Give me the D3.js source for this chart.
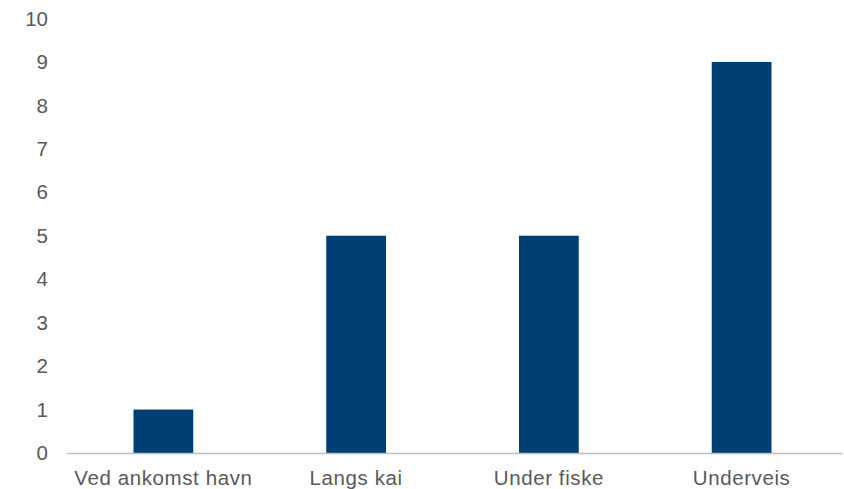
<!DOCTYPE html>
<html><head><meta charset="utf-8">
<script src="https://cdn.jsdelivr.net/npm/d3@7"></script>
<style>body{margin:0;background:#fff}</style>
</head><body>
<script>
const categories = ["Ved ankomst havn", "Langs kai", "Under fiske", "Underveis"];
const values = [1, 5, 5, 9];
const yTicks = [0,1,2,3,4,5,6,7,8,9,10];

const W = 844, H = 489;
const svg = d3.select("body").append("svg").attr("width", W).attr("height", H);
const x = d3.scaleBand().domain(categories).range([67, 838]).paddingInner(0.69).paddingOuter(0.345);
const y = d3.scaleLinear().domain([0, 10]).range([453, 18.5]);

svg.append("g").selectAll("rect").data(values).join("rect")
  .attr("x", (d,i) => x(categories[i]))
  .attr("width", x.bandwidth())
  .attr("y", d => y(d))
  .attr("height", d => y(0) - y(d))
  .attr("fill", "#003f73");

svg.append("line").attr("x1", 67).attr("x2", 843).attr("y1", y(0)+0.5).attr("y2", y(0)+0.5)
  .attr("stroke", "#bfbfbf").attr("stroke-width", 1.5);

const font = "'Liberation Sans', Arial, sans-serif";
svg.append("g").selectAll("text").data(yTicks).join("text")
  .attr("x", 48).attr("y", d => y(d)).attr("dy", "0.35em")
  .attr("text-anchor", "end").attr("font-family", font).attr("font-size", 20.5)
  .attr("fill", "#595959").text(d => d);

svg.append("g").selectAll("text").data(categories).join("text")
  .attr("x", d => x(d) + x.bandwidth()/2).attr("y", 485)
  .attr("text-anchor", "middle").attr("font-family", font).attr("font-size", 20.5)
  .attr("letter-spacing", 0.6)
  .attr("fill", "#595959").text(d => d);
</script>
</body></html>
